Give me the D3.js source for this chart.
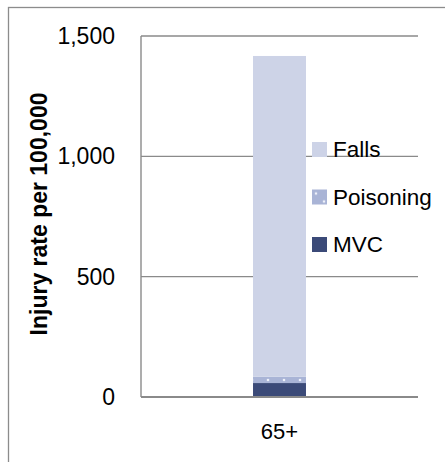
<!DOCTYPE html>
<html lang="en">
<head>
    <meta charset="UTF-8">
    <title>Injury rate</title>
    <script src="https://d3js.org/d3.v7.min.js"></script>
    <style>
        body { margin: 0; }
        text { font-family: "Liberation Sans", Arial, sans-serif; }
    </style>
</head>
<body>
    <script>
        // chart values
        let categories = ["65+"];
        let seriesNames = ["MVC", "Poisoning", "Falls"];
        let mvc = [58];
        let poisoning = [26];
        let falls = [1333];
        let yTicks = [0, 500, 1000, 1500];

        let w = 445;
        let h = 462;

        const svg = d3.select('body').append('svg').attr("width", w).attr("height", h);

        // pattern for poisoning (light dots)
        const defs = svg.append('defs');
        const pat = defs.append('pattern').attr('id', 'dots')
            .attr('width', 16).attr('height', 16).attr('patternUnits', 'userSpaceOnUse');
        pat.append('rect').attr('width', 16).attr('height', 16).attr('fill', '#a9b4d6');
        pat.append('circle').attr('cx', 4).attr('cy', 4).attr('r', 1.3).attr('fill', '#eef1fa');
        pat.append('circle').attr('cx', 12).attr('cy', 12).attr('r', 1.3).attr('fill', '#eef1fa');

        let colors = {"MVC": "#3b4a78", "Poisoning": "url(#dots)", "Falls": "#cdd3e7"};

        // outer frame
        svg.append('rect').attr('x', 8.5).attr('y', 7.5).attr('width', 460).attr('height', 470)
            .attr('fill', 'none').attr('stroke', '#8c8c8c').attr('stroke-width', 1.3);

        let pLeft = 141, pRight = 418, pTop = 36, pBottom = 397;

        let xScale = d3.scaleBand().domain(categories).range([pLeft, pRight]).padding(0.679);
        let yScale = d3.scaleLinear().domain([0, 1500]).range([pBottom, pTop]);

        // gridlines
        svg.selectAll('line.grid').data(yTicks.filter(d => d > 0)).enter().append('line')
            .attr('x1', pLeft).attr('x2', pRight)
            .attr('y1', d => yScale(d)).attr('y2', d => yScale(d))
            .attr('stroke', '#8a8a8a').attr('stroke-width', 1.4);

        // left axis line
        svg.append('line').attr('x1', pLeft).attr('x2', pLeft).attr('y1', pTop).attr('y2', pBottom)
            .attr('stroke', '#8a8a8a').attr('stroke-width', 1.4);

        // stacked bars
        let rows = categories.map((c, i) => ({cat: c, MVC: mvc[i], Poisoning: poisoning[i], Falls: falls[i]}));
        let stacked = d3.stack().keys(seriesNames)(rows);

        svg.selectAll('g.series').data(stacked).enter().append('g')
            .attr('fill', d => colors[d.key])
            .selectAll('rect').data(d => d).enter().append('rect')
            .attr('x', d => xScale(d.data.cat))
            .attr('width', xScale.bandwidth())
            .attr('y', d => yScale(d[1]))
            .attr('height', d => yScale(d[0]) - yScale(d[1]));

        // bottom axis line
        svg.append('line').attr('x1', pLeft).attr('x2', pRight).attr('y1', pBottom).attr('y2', pBottom)
            .attr('stroke', '#8a8a8a').attr('stroke-width', 2);

        // y tick labels
        svg.selectAll('text.ytick').data(yTicks).enter().append('text')
            .attr('x', 115).attr('y', d => yScale(d) + 8)
            .attr('text-anchor', 'end').attr('font-size', 23).attr('fill', '#000')
            .text(d => d3.format(',')(d));

        // x category labels
        svg.selectAll('text.xtick').data(categories).enter().append('text')
            .attr('x', d => xScale(d) + xScale.bandwidth() / 2).attr('y', 439)
            .attr('text-anchor', 'middle').attr('font-size', 22)
            .text(d => d);

        // y title
        svg.append('text').attr('transform', 'translate(47,214) rotate(-90)')
            .attr('text-anchor', 'middle').attr('font-size', 23).attr('font-weight', 'bold')
            .text('Injury rate per 100,000');

        // legend
        let legendItems = ["Falls", "Poisoning", "MVC"];
        let legend = svg.selectAll('g.legend').data(legendItems).enter().append('g')
            .attr('transform', (d, i) => `translate(312,${142 + i * 47.5})`);
        legend.append('rect').attr('width', 15).attr('height', 15).attr('fill', d => colors[d]);
        legend.append('text').attr('x', 21).attr('y', 15).attr('font-size', 22.5).text(d => d);
    </script>
</body>
</html>
